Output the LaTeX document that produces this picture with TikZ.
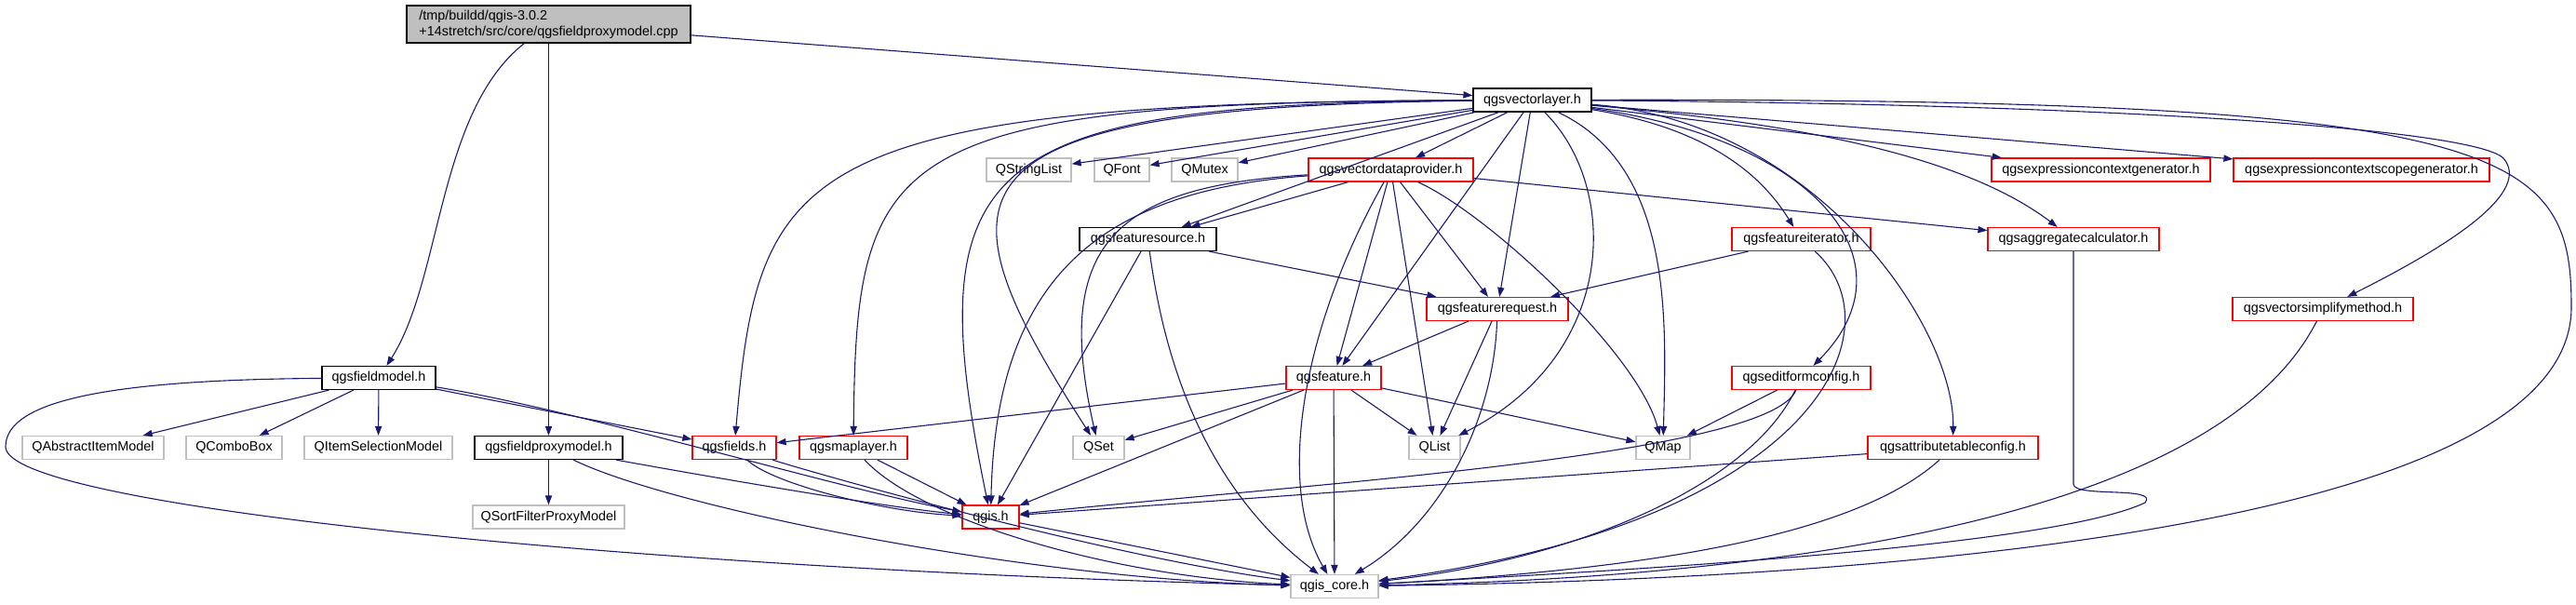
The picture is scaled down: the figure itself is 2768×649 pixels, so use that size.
\documentclass[tikz,border=0pt]{standalone}
\usepackage{fontspec}
\setmainfont{Liberation Sans}
\definecolor{DoxyNavy}{HTML}{191970}
\definecolor{DoxyRed}{HTML}{FF0000}
\definecolor{DoxyGray}{HTML}{BFBFBF}
\definecolor{DoxyBlack}{HTML}{000000}
\definecolor{DoxyWhite}{HTML}{FFFFFF}
\usetikzlibrary{arrows.meta}
\tikzset{
    % file boxes, sharp corners
    header/.style={
        rectangle,
        draw=DoxyBlack,
        fill=DoxyWhite,
        line width=0.6pt,
        minimum height=12.5pt,
        inner sep=0pt,
        align=center,
        font=\fontsize{7.2}{8.6}\selectfont
    },
    header red/.style={
        header,
        draw=DoxyRed
    },
    header gray/.style={
        header,
        draw=DoxyGray
    },
    source file/.style={
        header,
        fill=DoxyGray,
        minimum height=20pt,
        align=left
    },
    include arrow/.style={
        -{Triangle[length=5pt,width=3.6pt]},
        line width=0.55pt,
        DoxyNavy
    }
}

\begin{document}
\begin{tikzpicture}[x=0.5pt, y=-0.5pt]
    \useasboundingbox (0,0) rectangle (2768,649);

    % nodes, by rows
    \node[source file, minimum width=152.5pt] (root) at (589.5,26) {/tmp/buildd/qgis-3.0.2\\+14stretch/src/core/qgsfieldproxymodel.cpp};
    \node[header, minimum width=63.5pt] (vl) at (1646.5,107.5) {qgsvectorlayer.h};

    \node[header gray, minimum width=45.5pt] (qstringlist) at (1105.5,182.5) {QStringList};
    \node[header gray, minimum width=29.5pt] (qfont) at (1205.5,182.5) {QFont};
    \node[header gray, minimum width=35.5pt] (qmutex) at (1294.5,182.5) {QMutex};
    \node[header red, minimum width=88.5pt] (vdp) at (1494.5,182.5) {qgsvectordataprovider.h};
    \node[header red, minimum width=117.5pt] (ecg) at (2257.5,182.5) {qgsexpressioncontextgenerator.h};
    \node[header red, minimum width=137.5pt] (ecsg) at (2537.5,182.5) {qgsexpressioncontextscopegenerator.h};

    \node[header, minimum width=73.5pt] (fsrc) at (1233.5,257) {qgsfeaturesource.h};
    \node[header red, minimum width=74.5pt] (fiter) at (1935.5,257) {qgsfeatureiterator.h};
    \node[header red, minimum width=92pt] (aggr) at (2228,257) {qgsaggregatecalculator.h};

    \node[header red, minimum width=76pt] (freq) at (1609,332) {qgsfeaturerequest.h};
    \node[header red, minimum width=97pt] (vsm) at (2496,332) {qgsvectorsimplifymethod.h};

    \node[header, minimum width=61pt] (fmodel) at (407,406) {qgsfieldmodel.h};
    \node[header red, minimum width=51pt] (feat) at (1433,406) {qgsfeature.h};
    \node[header red, minimum width=74.5pt] (efc) at (1935.5,406) {qgseditformconfig.h};

    \node[header gray, minimum width=76pt] (qaim) at (100,481) {QAbstractItemModel};
    \node[header gray, minimum width=51.5pt] (qcombo) at (251.5,481) {QComboBox};
    \node[header gray, minimum width=79.5pt] (qism) at (406.5,481) {QItemSelectionModel};
    \node[header, minimum width=79.5pt] (fproxy) at (589.5,481) {qgsfieldproxymodel.h};
    \node[header red, minimum width=45pt] (fields) at (789,481) {qgsfields.h};
    \node[header red, minimum width=58pt] (maplayer) at (917,481) {qgsmaplayer.h};
    \node[header gray, minimum width=27.5pt] (qset) at (1180.5,481) {QSet};
    \node[header gray, minimum width=27.5pt] (qlist) at (1541.5,481) {QList};
    \node[header gray, minimum width=29pt] (qmap) at (1787,481) {QMap};
    \node[header red, minimum width=91.5pt] (atc) at (2098.5,481) {qgsattributetableconfig.h};

    \node[header gray, minimum width=81.5pt] (qsfpm) at (589.5,555.5) {QSortFilterProxyModel};
    \node[header red, minimum width=30.5pt] (qgis) at (1064.5,555.5) {qgis.h};

    \node[header gray, minimum width=47pt] (core) at (1434,630) {qgis\_core.h};

    % includes of the source file
    \draw[include arrow] (root) -- (vl);
    \draw[include arrow] (root) .. controls (470,120) and (475,300) .. (fmodel);
    \draw[include arrow] (root) -- (fproxy);

    % qgsfieldmodel.h
    \draw[include arrow] (fmodel) -- (qaim);
    \draw[include arrow] (fmodel) -- (qcombo);
    \draw[include arrow] (fmodel) -- (qism);
    \draw[include arrow] (fmodel) -- (fields);
    \draw[include arrow] (fmodel) .. controls (620,440) and (900,525) .. (qgis);
    \draw[include arrow] (fmodel) .. controls (120,408) and (6,430) .. (6,480) .. controls (6,545) and (700,612) .. (core);

    % qgsfieldproxymodel.h
    \draw[include arrow] (fproxy) -- (qsfpm);
    \draw[include arrow] (fproxy) .. controls (750,510) and (950,545) .. (qgis);
    \draw[include arrow] (fproxy) .. controls (720,545) and (1100,622) .. (core);

    % qgsvectorlayer.h
    \draw[include arrow] (vl) -- (qstringlist);
    \draw[include arrow] (vl) -- (qfont);
    \draw[include arrow] (vl) -- (qmutex);
    \draw[include arrow] (vl) -- (vdp);
    \draw[include arrow] (vl) -- (ecg);
    \draw[include arrow] (vl) -- (ecsg);
    \draw[include arrow] (vl) -- (fsrc);
    \draw[include arrow] (vl) -- (freq);
    \draw[include arrow] (vl) -- (feat);
    \draw[include arrow] (vl) .. controls (850,110) and (815,180) .. (fields);
    \draw[include arrow] (vl) .. controls (950,110) and (920,160) .. (maplayer);
    \draw[include arrow] (vl) .. controls (1050,112) and (985,170) .. (qgis);
    \draw[include arrow] (vl) .. controls (1000,115) and (1000,200) .. (qset);
    \draw[include arrow] (vl) .. controls (1740,200) and (1740,380) .. (qlist);
    \draw[include arrow] (vl) .. controls (1800,180) and (1790,350) .. (qmap);
    \draw[include arrow] (vl) .. controls (1850,140) and (1900,200) .. (fiter);
    \draw[include arrow] (vl) .. controls (1900,130) and (2100,160) .. (aggr);
    \draw[include arrow] (vl) .. controls (1950,150) and (2060,280) .. (efc);
    \draw[include arrow] (vl) .. controls (1950,130) and (2100,350) .. (atc);
    \draw[include arrow] (vl) .. controls (2300,112) and (2660,140) .. (2690,170) .. controls (2720,205) and (2640,260) .. (vsm);
    \draw[include arrow] (vl) .. controls (2700,105) and (2763,160) .. (2763,330) .. controls (2763,600) and (1800,625) .. (core);

    % qgsvectordataprovider.h
    \draw[include arrow] (vdp) -- (fsrc);
    \draw[include arrow] (vdp) -- (freq);
    \draw[include arrow] (vdp) -- (feat);
    \draw[include arrow] (vdp) -- (qlist);
    \draw[include arrow] (vdp) -- (aggr);
    \draw[include arrow] (vdp) .. controls (1200,200) and (1130,260) .. (qset);
    \draw[include arrow] (vdp) .. controls (1180,205) and (1070,300) .. (qgis);
    \draw[include arrow] (vdp) .. controls (1600,230) and (1760,380) .. (qmap);
    \draw[include arrow] (vdp) .. controls (1400,350) and (1370,520) .. (core);

    % qgsfeaturesource.h
    \draw[include arrow] (fsrc) -- (freq);
    \draw[include arrow] (fsrc) -- (qgis);
    \draw[include arrow] (fsrc) .. controls (1250,380) and (1290,520) .. (core);

    % qgsfeatureiterator.h
    \draw[include arrow] (fiter) -- (freq);
    \draw[include arrow] (fiter) .. controls (2040,350) and (1960,560) .. (core);

    % qgsfeaturerequest.h
    \draw[include arrow] (freq) -- (feat);
    \draw[include arrow] (freq) -- (qlist);
    \draw[include arrow] (freq) .. controls (1605,450) and (1550,560) .. (core);

    % qgsfeature.h
    \draw[include arrow] (feat) -- (fields);
    \draw[include arrow] (feat) -- (qset);
    \draw[include arrow] (feat) -- (qlist);
    \draw[include arrow] (feat) -- (qmap);
    \draw[include arrow] (feat) -- (qgis);
    \draw[include arrow] (feat) -- (core);

    % qgseditformconfig.h
    \draw[include arrow] (efc) -- (qmap);
    \draw[include arrow] (efc) .. controls (1900,490) and (1400,520) .. (qgis);
    \draw[include arrow] (efc) .. controls (1880,520) and (1700,600) .. (core);

    % qgsattributetableconfig.h
    \draw[include arrow] (atc) -- (qgis);
    \draw[include arrow] (atc) .. controls (2000,570) and (1800,610) .. (core);

    % remaining headers
    \draw[include arrow] (aggr) -- (2228,520) .. controls (2228,535) and (2320,522) .. (2305,540) .. controls (2200,590) and (1700,615) .. (core);
    \draw[include arrow] (vsm) .. controls (2380,560) and (1900,620) .. (core);
    \draw[include arrow] (fields) .. controls (830,520) and (950,550) .. (qgis);
    \draw[include arrow] (fields) .. controls (880,510) and (1200,600) .. (core);
    \draw[include arrow] (maplayer) -- (qgis);
    \draw[include arrow] (maplayer) .. controls (990,560) and (1200,620) .. (core);
    \draw[include arrow] (qgis) -- (core);
\end{tikzpicture}
\end{document}
